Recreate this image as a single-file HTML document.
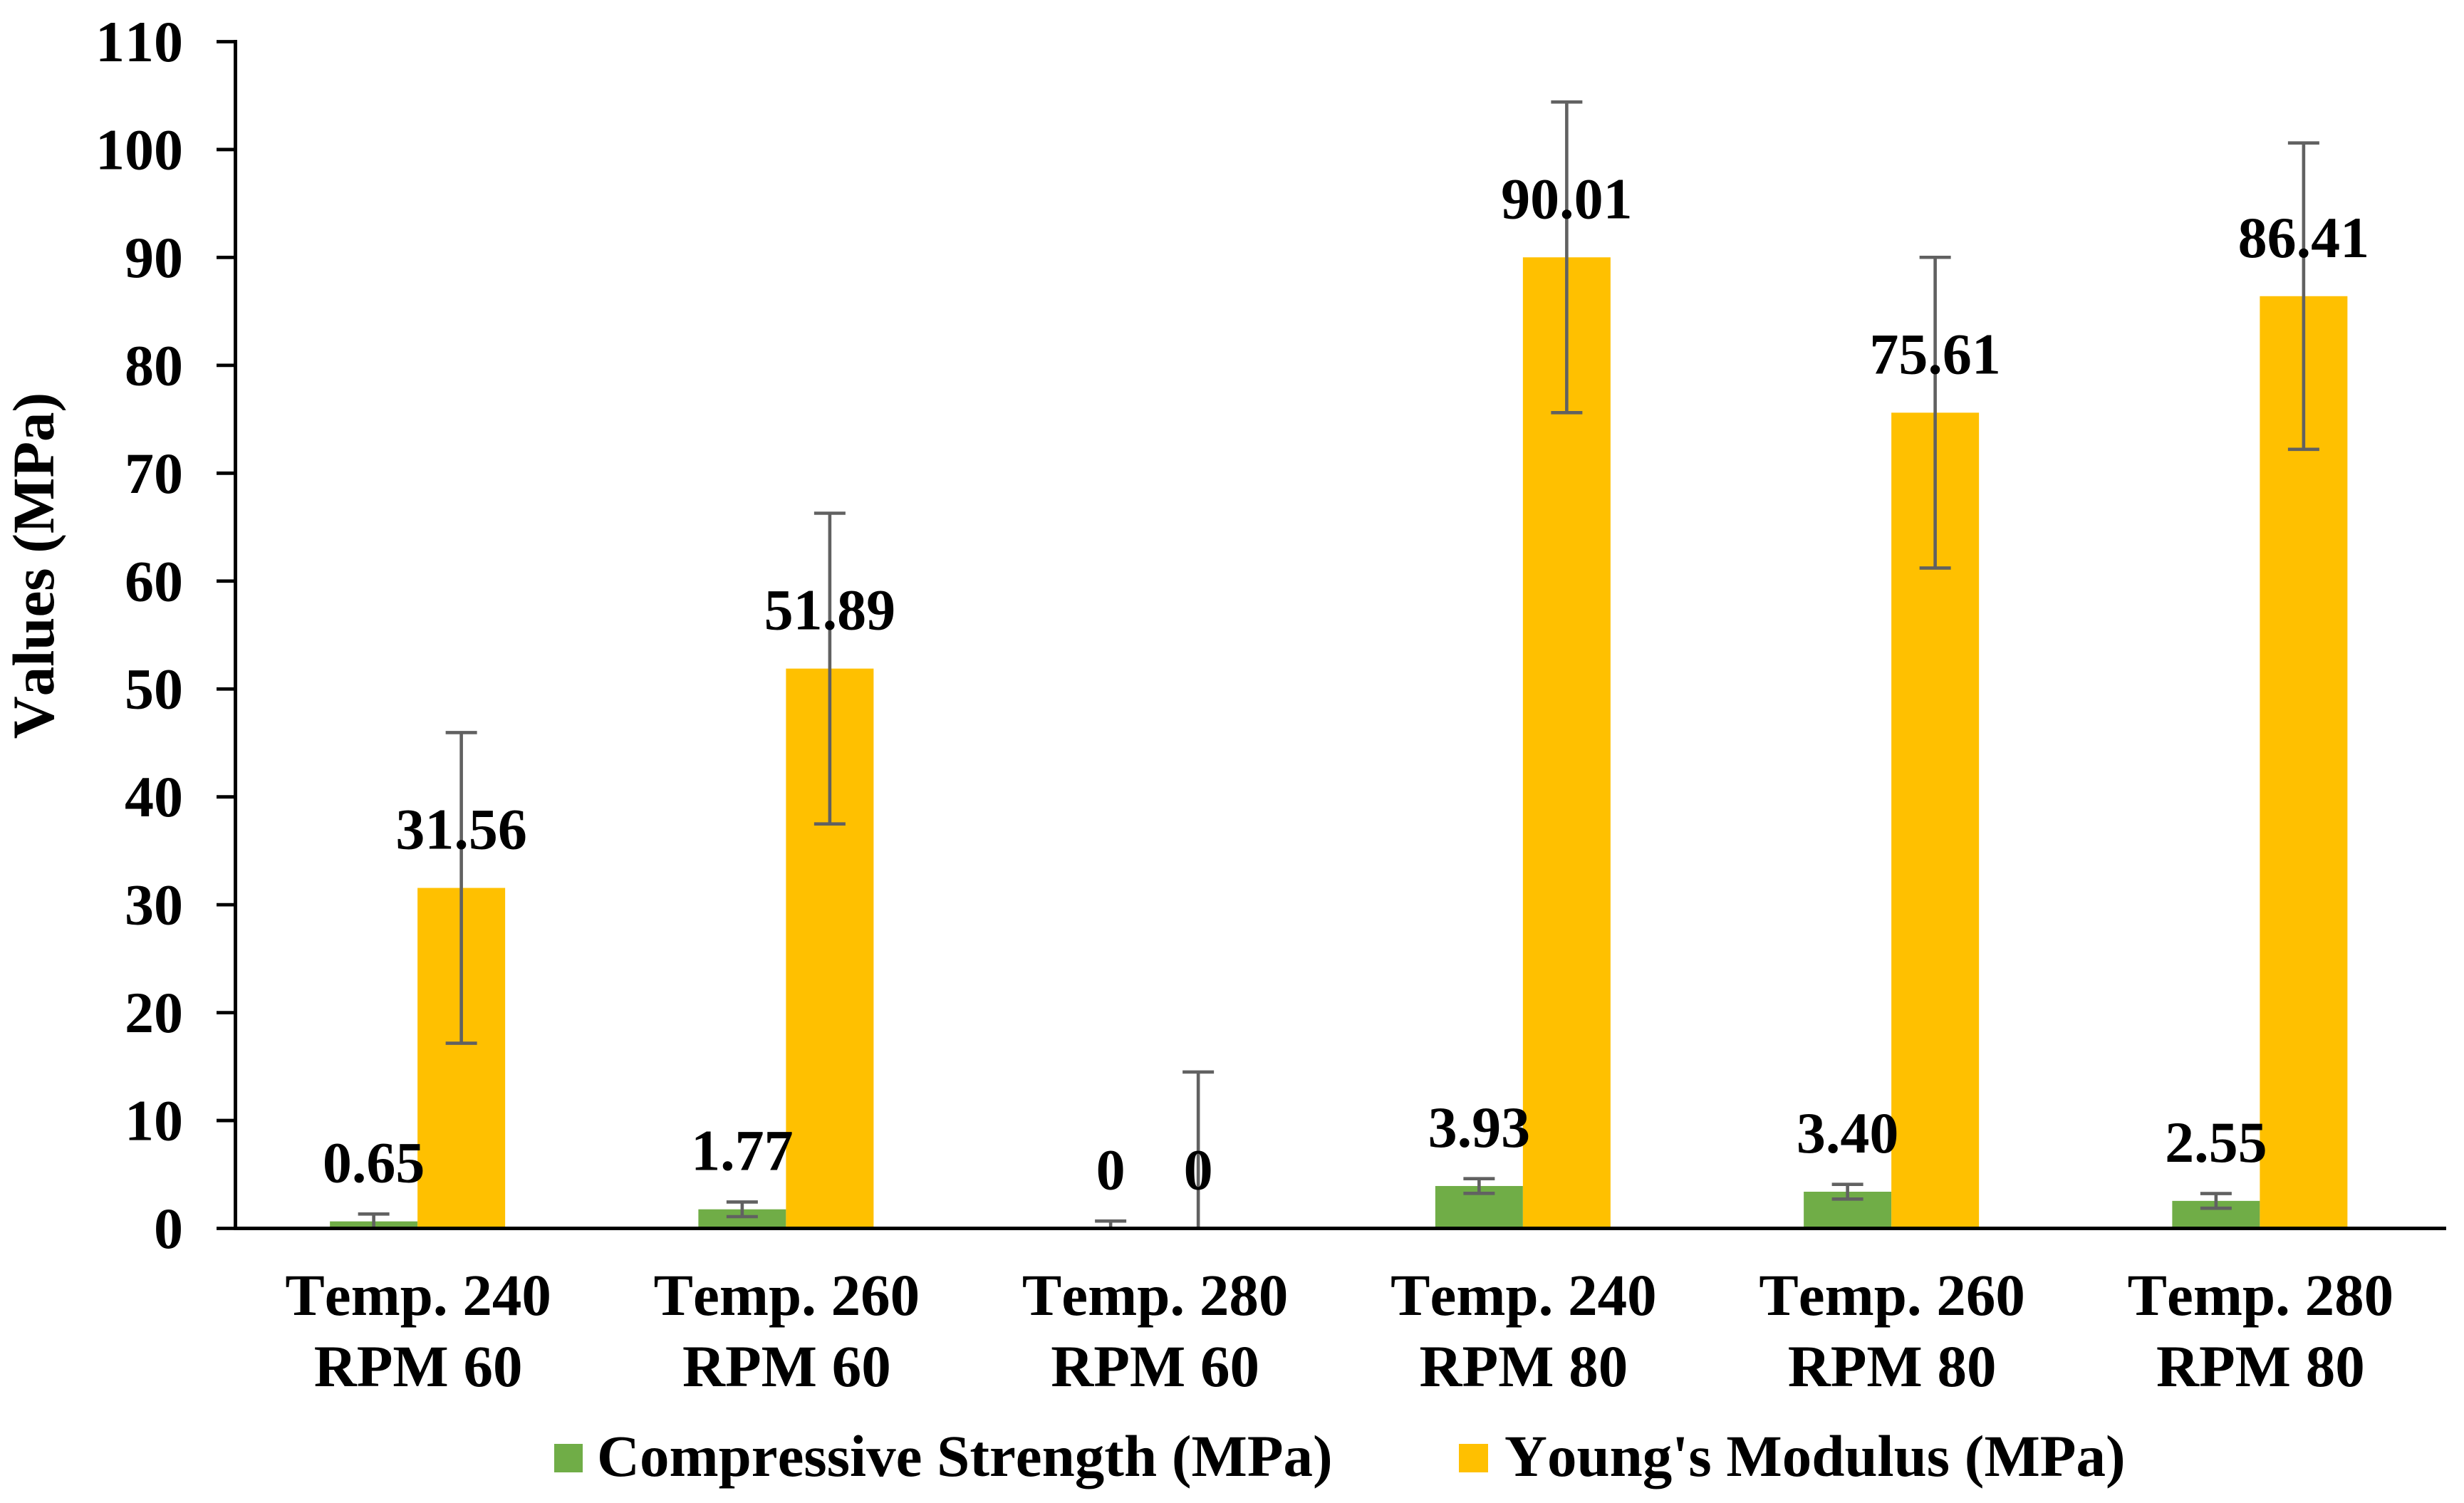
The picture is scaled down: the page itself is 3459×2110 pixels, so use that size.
<!DOCTYPE html>
<html lang="en">
<head>
<meta charset="utf-8">
<title>Compressive Strength and Young's Modulus</title>
<style>
html,body{margin:0;padding:0;background:#fff;}
body{width:3459px;height:2110px;overflow:hidden;}
svg{display:block;}
text{font-family:"Liberation Serif",serif;font-weight:bold;fill:#000;font-kerning:none;}
</style>
</head>
<body>
<svg id="chart" xmlns="http://www.w3.org/2000/svg" width="3459" height="2110" viewBox="0 0 3459 2110">
  <rect x="0" y="0" width="3459" height="2110" fill="#ffffff"/>
  <g id="bars"></g>
  <g id="errors"></g>
  <g id="axes"></g>
  <g id="labels"></g>
  <text transform="translate(75,794) rotate(-90)" text-anchor="middle" font-size="83">Values (MPa)</text>
  <g>
    <g>
      <rect x="778" y="2027" width="40" height="40" fill="#70AD47"/>
      <text x="838" y="2072" font-size="83">Compressive Strength (MPa)</text>
    </g>
    <g>
      <rect x="2048" y="2027" width="41" height="40" fill="#FFC000"/>
      <text x="2112" y="2072" font-size="83">Young's Modulus (MPa)</text>
    </g>
  </g>
</svg>
<script>
const categoriesTemp = ["Temp. 240", "Temp. 260", "Temp. 280", "Temp. 240", "Temp. 260", "Temp. 280"];
const categoriesRpm = ["RPM 60", "RPM 60", "RPM 60", "RPM 80", "RPM 80", "RPM 80"];
const compressiveValues = [0.65, 1.77, 0, 3.93, 3.40, 2.55];
const youngsValues = [31.56, 51.89, 0, 90.01, 75.61, 86.41];
const compressiveErrors = [0.68, 0.68, 0.68, 0.68, 0.68, 0.68];
const youngsErrors = [14.4, 14.4, 14.5, 14.4, 14.4, 14.2];
const compressiveLabels = ["0.65", "1.77", "0", "3.93", "3.40", "2.55"];
const youngsLabels = ["31.56", "51.89", "0", "90.01", "75.61", "86.41"];
const yTicks = [0, 10, 20, 30, 40, 50, 60, 70, 80, 90, 100, 110];

const NS = "http://www.w3.org/2000/svg";
const plotLeft = 330.5, plotRight = 3434, plotBottom = 1724.5, plotTop = 58.5, yMax = 110;
const barWidth = 123, capHalf = 22, errorColor = "#616161";
const yScale = v => plotBottom - (v / yMax) * (plotBottom - plotTop);
const groupCenter = i => plotLeft - 3 + (i + 0.5) * (plotRight - plotLeft) / categoriesTemp.length;

function make(parent, tag, attrs, text) {
  const el = document.createElementNS(NS, tag);
  for (const k in attrs) el.setAttribute(k, attrs[k]);
  if (text !== undefined) el.textContent = text;
  parent.appendChild(el);
  return el;
}

const barsG = document.getElementById("bars");
const errorsG = document.getElementById("errors");
const axesG = document.getElementById("axes");
const labelsG = document.getElementById("labels");

function drawBar(x, value, fill, name) {
  const el = make(barsG, "rect", {x: x, y: yScale(value), width: barWidth, height: Math.max(0, plotBottom - yScale(value)), fill: fill});
  
  
}

function drawError(cx, value, err, name) {
  const hi = yScale(value + err);
  const lowVal = value - err;
  const lo = yScale(Math.max(0, lowVal));
  const g = make(errorsG, "g", {stroke: errorColor, "stroke-width": 4.6, fill: "none"});
  
  
  make(g, "line", {x1: cx, x2: cx, y1: hi, y2: lo});
  make(g, "line", {x1: cx - capHalf, x2: cx + capHalf, y1: hi, y2: hi});
  if (lowVal > 0) make(g, "line", {x1: cx - capHalf, x2: cx + capHalf, y1: lo, y2: lo});
}

function drawValueLabel(cx, value, str, name) {
  const el = make(labelsG, "text", {x: cx, y: yScale(value) - 55, "text-anchor": "middle", "font-size": 82}, str);
  
  
}

categoriesTemp.forEach((cat, i) => {
  const c = groupCenter(i);
  drawBar(c - barWidth, compressiveValues[i], "#70AD47", "bar-compressive-" + (i + 1));
  drawBar(c, youngsValues[i], "#FFC000", "bar-youngs-" + (i + 1));
  drawError(c - barWidth / 2, compressiveValues[i], compressiveErrors[i], "error-compressive-" + (i + 1));
  drawError(c + barWidth / 2, youngsValues[i], youngsErrors[i], "error-youngs-" + (i + 1));
  drawValueLabel(c - barWidth / 2, compressiveValues[i], compressiveLabels[i], "value-compressive-" + (i + 1));
  drawValueLabel(c + barWidth / 2, youngsValues[i], youngsLabels[i], "value-youngs-" + (i + 1));

  const t = make(axesG, "text", {x: c + 1, y: 1846, "text-anchor": "middle", "font-size": 83}, cat);
  
  
  const r = make(axesG, "text", {x: c + 1, y: 1946, "text-anchor": "middle", "font-size": 83}, categoriesRpm[i]);
  
  
});

const yAxisLine = make(axesG, "line", {x1: plotLeft, x2: plotLeft, y1: plotTop - 2.5, y2: plotBottom + 2.5, stroke: "#000", "stroke-width": 5});



const xAxisLine = make(axesG, "line", {x1: plotLeft, x2: plotRight, y1: plotBottom, y2: plotBottom, stroke: "#000", "stroke-width": 5});



yTicks.forEach(v => {
  const y = yScale(v);
  const tick = make(axesG, "line", {x1: 304, x2: plotLeft, y1: y, y2: y, stroke: "#000", "stroke-width": 4.8});
  
  
  const lab = make(axesG, "text", {x: 257, y: y + 27.5, "text-anchor": "end", "font-size": 82}, String(v));
  
  
});
</script>
</body>
</html>
